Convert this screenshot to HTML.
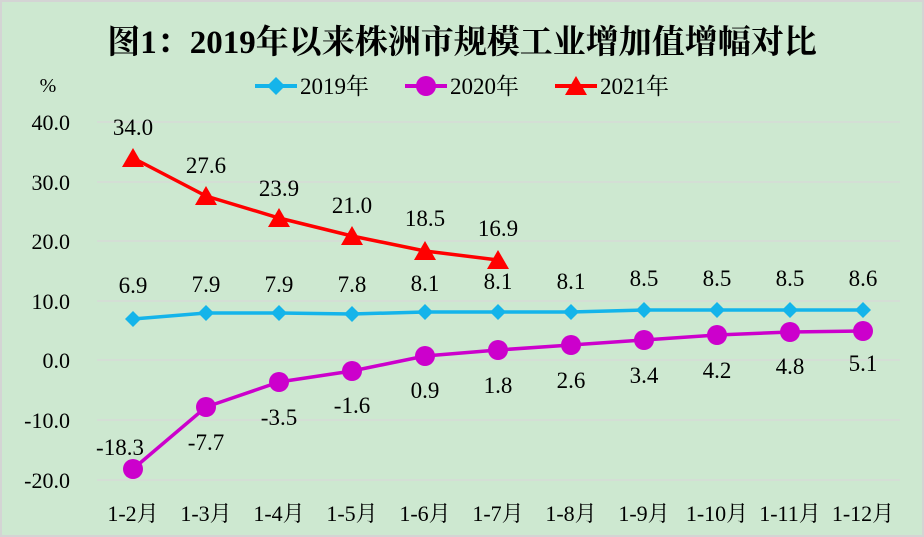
<!DOCTYPE html>
<html><head><meta charset="utf-8"><style>
html,body{margin:0;padding:0;background:#cde8d0;}
svg{display:block;font-family:"Liberation Serif","Noto Serif CJK SC",serif;}
</style></head><body>
<svg width="924" height="537" viewBox="0 0 924 537">
<rect x="1" y="1" width="922" height="535" fill="#cde8d0" stroke="#d4d4d4" stroke-width="2"/>
<text x="462" y="53" text-anchor="middle" font-size="33" font-weight="bold">图1：2019年以来株洲市规模工业增加值增幅对比</text>
<text x="48" y="92" text-anchor="middle" font-size="20">%</text>
<g font-size="23">
<line x1="255" y1="86" x2="297" y2="86" stroke="#14b4ea" stroke-width="4"/>
<polygon points="276,77 285,86 276,95 267,86" fill="#14b4ea"/>
<text x="300" y="94">2019年</text>
<line x1="405" y1="86" x2="447" y2="86" stroke="#cc00cc" stroke-width="4"/>
<circle cx="426" cy="86" r="10" fill="#cc00cc"/>
<text x="450" y="94">2020年</text>
<line x1="555" y1="86" x2="597" y2="86" stroke="#ff0000" stroke-width="4"/>
<polygon points="576,76 587,95 565,95" fill="#ff0000"/>
<text x="600" y="94">2021年</text>
</g>
<g stroke="#d8d8d8" stroke-width="1.3">
<line x1="97" y1="122" x2="900" y2="122"/><line x1="97" y1="182" x2="900" y2="182"/>
<line x1="97" y1="241" x2="900" y2="241"/><line x1="97" y1="301" x2="900" y2="301"/>
<line x1="97" y1="360" x2="900" y2="360"/><line x1="97" y1="420" x2="900" y2="420"/>
<line x1="97" y1="480" x2="900" y2="480"/>
</g>
<g font-size="22" text-anchor="end">
<text x="70" y="130">40.0</text><text x="70" y="190">30.0</text><text x="70" y="249">20.0</text>
<text x="70" y="309">10.0</text><text x="70" y="368">0.0</text><text x="70" y="428">-10.0</text><text x="70" y="488">-20.0</text>
</g>
<g font-size="22" text-anchor="middle">
<text x="133" y="521">1-2月</text><text x="206" y="521">1-3月</text><text x="279" y="521">1-4月</text>
<text x="352" y="521">1-5月</text><text x="425" y="521">1-6月</text><text x="498" y="521">1-7月</text>
<text x="571" y="521">1-8月</text><text x="644" y="521">1-9月</text><text x="717" y="521">1-10月</text>
<text x="790" y="521">1-11月</text><text x="863" y="521">1-12月</text>
</g>
<polyline fill="none" stroke="#14b4ea" stroke-width="3.5" points="133,319 206,313 279,313 352,314 425,312 498,312 571,312 644,310 717,310 790,310 863,310"/>
<g fill="#14b4ea">
<polygon points="133,311 141,319 133,327 125,319"/><polygon points="206,305 214,313 206,321 198,313"/>
<polygon points="279,305 287,313 279,321 271,313"/><polygon points="352,306 360,314 352,322 344,314"/>
<polygon points="425,304 433,312 425,320 417,312"/><polygon points="498,304 506,312 498,320 490,312"/>
<polygon points="571,304 579,312 571,320 563,312"/><polygon points="644,302 652,310 644,318 636,310"/>
<polygon points="717,302 725,310 717,318 709,310"/><polygon points="790,302 798,310 790,318 782,310"/>
<polygon points="863,302 871,310 863,318 855,310"/>
</g>
<polyline fill="none" stroke="#cc00cc" stroke-width="3.5" points="133,469 206,407 279,382 352,371 425,356 498,350 571,345 644,340 717,335 790,332 863,331"/>
<g fill="#cc00cc">
<circle cx="133" cy="469" r="10"/><circle cx="206" cy="407" r="10"/><circle cx="279" cy="382" r="10"/>
<circle cx="352" cy="371" r="10"/><circle cx="425" cy="356" r="10"/><circle cx="498" cy="350" r="10"/>
<circle cx="571" cy="345" r="10"/><circle cx="644" cy="340" r="10"/><circle cx="717" cy="335" r="10"/>
<circle cx="790" cy="332" r="10"/><circle cx="863" cy="331" r="10"/>
</g>
<polyline fill="none" stroke="#ff0000" stroke-width="3.5" points="133,158 206,196 279,218 352,236 425,251 498,260"/>
<g fill="#ff0000">
<polygon points="133,148 144,167 122,167"/><polygon points="206,186 217,205 195,205"/>
<polygon points="279,208 290,227 268,227"/><polygon points="352,226 363,245 341,245"/>
<polygon points="425,241 436,260 414,260"/><polygon points="498,250 509,269 487,269"/>
</g>
<g font-size="23" text-anchor="middle">
<text x="133" y="135">34.0</text><text x="206" y="173">27.6</text><text x="279" y="196">23.9</text>
<text x="352" y="213">21.0</text><text x="425" y="226">18.5</text><text x="498" y="236">16.9</text>
<text x="133" y="293">6.9</text><text x="206" y="292">7.9</text><text x="279" y="292">7.9</text>
<text x="352" y="292">7.8</text><text x="425" y="291">8.1</text><text x="498" y="289">8.1</text>
<text x="571" y="289">8.1</text><text x="644" y="286">8.5</text><text x="717" y="286">8.5</text>
<text x="790" y="286">8.5</text><text x="863" y="286">8.6</text>
<text x="120" y="455">-18.3</text><text x="206" y="450">-7.7</text><text x="279" y="425">-3.5</text>
<text x="352" y="413">-1.6</text><text x="425" y="398">0.9</text><text x="498" y="393">1.8</text>
<text x="571" y="388">2.6</text><text x="644" y="383">3.4</text><text x="717" y="378">4.2</text>
<text x="790" y="374">4.8</text><text x="863" y="371">5.1</text>
</g>
</svg>
</body></html>
